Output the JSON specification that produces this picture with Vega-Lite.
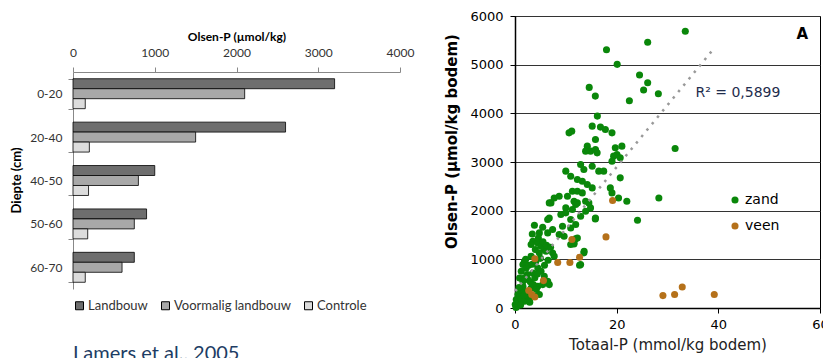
{
  "$schema": "https://vega.github.io/schema/vega-lite/v6.json",
  "padding": {"left": 10, "top": 9, "right": 0, "bottom": 0},
  "background": "white",
  "spacing": 29,
  "config": {"font": "Lato"},
  "resolve": {"scale": {"color": "independent", "fill": "independent"}, "legend": {"color": "independent", "fill": "independent"}},
  "datasets": {
    "bars": [
      {"depth": "0-20", "group": "Landbouw", "value": 3200},
      {"depth": "0-20", "group": "Voormalig landbouw", "value": 2100},
      {"depth": "0-20", "group": "Controle", "value": 150},
      {"depth": "20-40", "group": "Landbouw", "value": 2600},
      {"depth": "20-40", "group": "Voormalig landbouw", "value": 1500},
      {"depth": "20-40", "group": "Controle", "value": 200},
      {"depth": "40-50", "group": "Landbouw", "value": 1000},
      {"depth": "40-50", "group": "Voormalig landbouw", "value": 800},
      {"depth": "40-50", "group": "Controle", "value": 190},
      {"depth": "50-60", "group": "Landbouw", "value": 900},
      {"depth": "50-60", "group": "Voormalig landbouw", "value": 750},
      {"depth": "50-60", "group": "Controle", "value": 180},
      {"depth": "60-70", "group": "Landbouw", "value": 750},
      {"depth": "60-70", "group": "Voormalig landbouw", "value": 600},
      {"depth": "60-70", "group": "Controle", "value": 150}
    ],
    "pts": [
      {"tp": 33.5, "op": 5685, "soil": "zand"},
      {"tp": 26.1, "op": 5459, "soil": "zand"},
      {"tp": 18.0, "op": 5307, "soil": "zand"},
      {"tp": 20.1, "op": 5006, "soil": "zand"},
      {"tp": 24.5, "op": 4786, "soil": "zand"},
      {"tp": 26.1, "op": 4628, "soil": "zand"},
      {"tp": 25.3, "op": 4478, "soil": "zand"},
      {"tp": 28.2, "op": 4402, "soil": "zand"},
      {"tp": 14.6, "op": 4533, "soil": "zand"},
      {"tp": 15.8, "op": 4354, "soil": "zand"},
      {"tp": 22.5, "op": 4258, "soil": "zand"},
      {"tp": 16.2, "op": 3943, "soil": "zand"},
      {"tp": 31.5, "op": 3278, "soil": "zand"},
      {"tp": 28.3, "op": 2262, "soil": "zand"},
      {"tp": 24.1, "op": 1804, "soil": "zand"},
      {"tp": 15.8, "op": 1831, "soil": "zand"},
      {"tp": 13.6, "op": 1166, "soil": "zand"},
      {"tp": 12.7, "op": 878, "soil": "zand"},
      {"tp": 11.6, "op": 1316, "soil": "zand"},
      {"tp": 11.9, "op": 1420, "soil": "zand"},
      {"tp": 15.19, "op": 3737, "soil": "zand"},
      {"tp": 16.81, "op": 3717, "soil": "zand"},
      {"tp": 17.78, "op": 3669, "soil": "zand"},
      {"tp": 19.08, "op": 3599, "soil": "zand"},
      {"tp": 10.63, "op": 3599, "soil": "zand"},
      {"tp": 11.16, "op": 3634, "soil": "zand"},
      {"tp": 15.83, "op": 3464, "soil": "zand"},
      {"tp": 14.22, "op": 3326, "soil": "zand"},
      {"tp": 14.86, "op": 3223, "soil": "zand"},
      {"tp": 15.83, "op": 3258, "soil": "zand"},
      {"tp": 13.89, "op": 3223, "soil": "zand"},
      {"tp": 16.16, "op": 3188, "soil": "zand"},
      {"tp": 19.73, "op": 3291, "soil": "zand"},
      {"tp": 21.03, "op": 3326, "soil": "zand"},
      {"tp": 20.06, "op": 3155, "soil": "zand"},
      {"tp": 19.4, "op": 3120, "soil": "zand"},
      {"tp": 19.08, "op": 3017, "soil": "zand"},
      {"tp": 20.7, "op": 3085, "soil": "zand"},
      {"tp": 12.91, "op": 2949, "soil": "zand"},
      {"tp": 13.55, "op": 2847, "soil": "zand"},
      {"tp": 15.19, "op": 2914, "soil": "zand"},
      {"tp": 16.48, "op": 2812, "soil": "zand"},
      {"tp": 17.45, "op": 2812, "soil": "zand"},
      {"tp": 9.99, "op": 2812, "soil": "zand"},
      {"tp": 10.96, "op": 2709, "soil": "zand"},
      {"tp": 12.27, "op": 2641, "soil": "zand"},
      {"tp": 13.24, "op": 2606, "soil": "zand"},
      {"tp": 14.22, "op": 2538, "soil": "zand"},
      {"tp": 15.19, "op": 2468, "soil": "zand"},
      {"tp": 18.75, "op": 2468, "soil": "zand"},
      {"tp": 19.08, "op": 2365, "soil": "zand"},
      {"tp": 20.7, "op": 2674, "soil": "zand"},
      {"tp": 8.69, "op": 2297, "soil": "zand"},
      {"tp": 7.71, "op": 2262, "soil": "zand"},
      {"tp": 7.07, "op": 2160, "soil": "zand"},
      {"tp": 10.32, "op": 2297, "soil": "zand"},
      {"tp": 11.29, "op": 2400, "soil": "zand"},
      {"tp": 12.27, "op": 2400, "soil": "zand"},
      {"tp": 13.24, "op": 2365, "soil": "zand"},
      {"tp": 11.61, "op": 2195, "soil": "zand"},
      {"tp": 12.27, "op": 2160, "soil": "zand"},
      {"tp": 13.89, "op": 2195, "soil": "zand"},
      {"tp": 22.0, "op": 2195, "soil": "zand"},
      {"tp": 20.37, "op": 2262, "soil": "zand"},
      {"tp": 14.86, "op": 2057, "soil": "zand"},
      {"tp": 9.99, "op": 2057, "soil": "zand"},
      {"tp": 6.74, "op": 2160, "soil": "zand"},
      {"tp": 9.02, "op": 1921, "soil": "zand"},
      {"tp": 9.99, "op": 1955, "soil": "zand"},
      {"tp": 11.29, "op": 2023, "soil": "zand"},
      {"tp": 11.94, "op": 2126, "soil": "zand"},
      {"tp": 14.53, "op": 2160, "soil": "zand"},
      {"tp": 15.83, "op": 1851, "soil": "zand"},
      {"tp": 13.89, "op": 1989, "soil": "zand"},
      {"tp": 12.91, "op": 1886, "soil": "zand"},
      {"tp": 10.96, "op": 1818, "soil": "zand"},
      {"tp": 9.35, "op": 1680, "soil": "zand"},
      {"tp": 10.96, "op": 1645, "soil": "zand"},
      {"tp": 11.94, "op": 1715, "soil": "zand"},
      {"tp": 3.82, "op": 1701, "soil": "zand"},
      {"tp": 5.45, "op": 1660, "soil": "zand"},
      {"tp": 7.4, "op": 1612, "soil": "zand"},
      {"tp": 6.74, "op": 1851, "soil": "zand"},
      {"tp": 6.43, "op": 1818, "soil": "zand"},
      {"tp": 8.69, "op": 1509, "soil": "zand"},
      {"tp": 9.66, "op": 1475, "soil": "zand"},
      {"tp": 11.61, "op": 1337, "soil": "zand"},
      {"tp": 10.96, "op": 1304, "soil": "zand"},
      {"tp": 12.27, "op": 1440, "soil": "zand"},
      {"tp": 3.51, "op": 1372, "soil": "zand"},
      {"tp": 3.17, "op": 1304, "soil": "zand"},
      {"tp": 4.48, "op": 1337, "soil": "zand"},
      {"tp": 5.12, "op": 1269, "soil": "zand"},
      {"tp": 5.76, "op": 1201, "soil": "zand"},
      {"tp": 6.1, "op": 1166, "soil": "zand"},
      {"tp": 7.4, "op": 1131, "soil": "zand"},
      {"tp": 7.71, "op": 1063, "soil": "zand"},
      {"tp": 4.79, "op": 1131, "soil": "zand"},
      {"tp": 3.17, "op": 1063, "soil": "zand"},
      {"tp": 1.87, "op": 960, "soil": "zand"},
      {"tp": 1.56, "op": 893, "soil": "zand"},
      {"tp": 2.2, "op": 823, "soil": "zand"},
      {"tp": 1.23, "op": 755, "soil": "zand"},
      {"tp": 0.9, "op": 617, "soil": "zand"},
      {"tp": 1.56, "op": 549, "soil": "zand"},
      {"tp": 2.53, "op": 584, "soil": "zand"},
      {"tp": 3.51, "op": 720, "soil": "zand"},
      {"tp": 4.48, "op": 823, "soil": "zand"},
      {"tp": 5.12, "op": 755, "soil": "zand"},
      {"tp": 5.76, "op": 652, "soil": "zand"},
      {"tp": 6.43, "op": 549, "soil": "zand"},
      {"tp": 6.74, "op": 481, "soil": "zand"},
      {"tp": 5.45, "op": 481, "soil": "zand"},
      {"tp": 4.48, "op": 446, "soil": "zand"},
      {"tp": 3.17, "op": 411, "soil": "zand"},
      {"tp": 2.2, "op": 343, "soil": "zand"},
      {"tp": 1.23, "op": 343, "soil": "zand"},
      {"tp": 0.58, "op": 276, "soil": "zand"},
      {"tp": 0.25, "op": 173, "soil": "zand"},
      {"tp": 0.9, "op": 103, "soil": "zand"},
      {"tp": 0.05, "op": 70, "soil": "zand"},
      {"tp": 1.87, "op": 138, "soil": "zand"},
      {"tp": 2.2, "op": 206, "soil": "zand"},
      {"tp": 2.84, "op": 206, "soil": "zand"},
      {"tp": 3.82, "op": 241, "soil": "zand"},
      {"tp": 4.79, "op": 276, "soil": "zand"},
      {"tp": 1.56, "op": 446, "soil": "zand"},
      {"tp": 13.55, "op": 1131, "soil": "zand"},
      {"tp": 12.91, "op": 893, "soil": "zand"},
      {"tp": 4.79, "op": 1543, "soil": "zand"},
      {"tp": 6.43, "op": 1543, "soil": "zand"},
      {"tp": 0.4, "op": 40, "soil": "zand"},
      {"tp": 0.7, "op": 90, "soil": "zand"},
      {"tp": 1.0, "op": 230, "soil": "zand"},
      {"tp": 1.3, "op": 180, "soil": "zand"},
      {"tp": 0.8, "op": 420, "soil": "zand"},
      {"tp": 2.5, "op": 300, "soil": "zand"},
      {"tp": 3.0, "op": 540, "soil": "zand"},
      {"tp": 3.9, "op": 620, "soil": "zand"},
      {"tp": 2.7, "op": 880, "soil": "zand"},
      {"tp": 2.1, "op": 1000, "soil": "zand"},
      {"tp": 4.1, "op": 960, "soil": "zand"},
      {"tp": 5.0, "op": 1020, "soil": "zand"},
      {"tp": 4.0, "op": 1200, "soil": "zand"},
      {"tp": 3.4, "op": 1520, "soil": "zand"},
      {"tp": 4.6, "op": 1440, "soil": "zand"},
      {"tp": 5.5, "op": 1360, "soil": "zand"},
      {"tp": 6.2, "op": 1290, "soil": "zand"},
      {"tp": 7.0, "op": 1250, "soil": "zand"},
      {"tp": 6.5, "op": 980, "soil": "zand"},
      {"tp": 5.8, "op": 880, "soil": "zand"},
      {"tp": 2.4, "op": 690, "soil": "zand"},
      {"tp": 1.9, "op": 620, "soil": "zand"},
      {"tp": 3.6, "op": 480, "soil": "zand"},
      {"tp": 4.2, "op": 380, "soil": "zand"},
      {"tp": 0.2, "op": 10, "soil": "zand"},
      {"tp": 1.1, "op": 60, "soil": "zand"},
      {"tp": 1.8, "op": 260, "soil": "zand"},
      {"tp": 2.9, "op": 120, "soil": "zand"},
      {"tp": 3.4, "op": 900, "soil": "zand"},
      {"tp": 4.4, "op": 700, "soil": "zand"},
      {"tp": 19.2, "op": 2209, "soil": "veen"},
      {"tp": 17.9, "op": 1461, "soil": "veen"},
      {"tp": 11.2, "op": 1407, "soil": "veen"},
      {"tp": 12.7, "op": 1043, "soil": "veen"},
      {"tp": 10.8, "op": 934, "soil": "veen"},
      {"tp": 8.4, "op": 934, "soil": "veen"},
      {"tp": 3.9, "op": 1012, "soil": "veen"},
      {"tp": 5.6, "op": 563, "soil": "veen"},
      {"tp": 2.7, "op": 358, "soil": "veen"},
      {"tp": 3.3, "op": 276, "soil": "veen"},
      {"tp": 3.9, "op": 227, "soil": "veen"},
      {"tp": 29.1, "op": 255, "soil": "veen"},
      {"tp": 31.4, "op": 276, "soil": "veen"},
      {"tp": 32.9, "op": 432, "soil": "veen"},
      {"tp": 39.2, "op": 276, "soil": "veen"}
    ],
    "trend": [
      {"tp": 0, "op": 350},
      {"tp": 38.8, "op": 5290}
    ],
    "rlabel": [{"tp": 35.5, "op": 4416, "label": "R² = 0,5899"}],
    "alabel": [{"tp": 56.5, "op": 5640, "label": "A"}]
  },
  "hconcat": [
    {
      "width": 327,
      "height": 273,
      "view": {"stroke": null},
      "data": {"name": "bars"},
      "title": {"text": "Lamers et al., 2005", "orient": "bottom", "anchor": "start", "frame": "group", "font": "Lato", "fontSize": 20, "fontWeight": "normal", "color": "#1d3d64", "offset": 31},
      "mark": {"type": "bar", "stroke": "#000", "strokeWidth": 0.8},
      "encoding": {
        "y": {
          "field": "depth", "type": "nominal",
          "sort": ["0-20", "20-40", "40-50", "50-60", "60-70"],
          "scale": {"paddingInner": 0.31, "paddingOuter": 0.155, "range": [56, 273]},
          "axis": {"title": "Diepte (cm)", "titleFont": "Lato", "titleFontSize": 13, "titleFontWeight": "bold", "titleColor": "#000", "titlePadding": 6, "titleY": 164, "labelFont": "Lato", "labelFontSize": 12, "labelColor": "#333", "labelPadding": 6, "tickBand": "extent", "tickSize": 5, "tickColor": "#888", "domainColor": "#888"}
        },
        "yOffset": {"field": "group", "type": "nominal", "sort": ["Landbouw", "Voormalig landbouw", "Controle"], "scale": {"paddingInner": 0, "paddingOuter": 0}},
        "x": {
          "field": "value", "type": "quantitative",
          "scale": {"domain": [0, 4000], "nice": false},
          "axis": {"orient": "top", "offset": -56, "values": [0, 1000, 2000, 3000, 4000], "format": "d", "grid": false, "title": "Olsen-P (µmol/kg)", "titleFontWeight": "bold", "titleFontSize": 12, "titleColor": "#000", "titlePadding": 3, "labelFontSize": 12, "labelColor": "#333", "labelPadding": 8, "labelFlush": false, "tickSize": 5, "tickColor": "#888", "domainColor": "#888"}
        },
        "fill": {
          "field": "group", "type": "nominal",
          "scale": {"domain": ["Landbouw", "Voormalig landbouw", "Controle"], "range": ["#6e6e6e", "#a8a8a8", "#dcdcdc"]},
          "legend": {"orient": "bottom", "direction": "horizontal", "title": null, "symbolType": "square", "symbolSize": 64, "symbolStrokeColor": "#000", "symbolStrokeWidth": 1, "labelFontSize": 13, "labelFont": "Lato", "labelColor": "#333", "labelOffset": 2, "columnPadding": 11, "offset": 10}
        }
      }
    },
    {
      "width": 305,
      "height": 292,
      "view": {"stroke": "#000", "strokeWidth": 1},
      "layer": [
        {
          "data": {"name": "pts"},
          "mark": {"type": "circle", "size": 50, "opacity": 1},
          "encoding": {
            "x": {
              "field": "tp", "type": "quantitative",
              "scale": {"domain": [0, 60], "nice": false},
              "axis": {"values": [0, 20, 40, 60], "format": "d", "grid": false, "title": "Totaal-P (mmol/kg bodem)", "titleFont": "DejaVu Sans", "titleFontSize": 15, "titleFontWeight": "normal", "titleColor": "#222", "titlePadding": 6, "labelFont": "DejaVu Sans", "labelFontSize": 13, "labelColor": "#000", "labelFlush": false, "labelPadding": 5, "tickSize": 5, "tickColor": "#000", "domainColor": "#000", "domainWidth": 1.5}
            },
            "y": {
              "field": "op", "type": "quantitative",
              "scale": {"domain": [0, 6000], "nice": false},
              "axis": {"values": [0, 1000, 2000, 3000, 4000, 5000, 6000], "format": "d", "grid": true, "gridColor": "#333", "gridWidth": 1, "title": "Olsen-P (µmol/kg bodem)", "titleFont": "DejaVu Sans", "titleFontSize": 15, "titleFontWeight": "bold", "titleColor": "#000", "titleX": -64, "titleY": 125, "titleBaseline": "middle", "labelFont": "DejaVu Sans", "labelFontSize": 13, "labelColor": "#000", "labelFlush": false, "labelPadding": 7, "tickSize": 5, "tickColor": "#000", "domainColor": "#000", "domainWidth": 1.5}
            },
            "color": {
              "field": "soil", "type": "nominal",
              "scale": {"domain": ["zand", "veen"], "range": ["#0a870a", "#b5711a"]},
              "legend": {"orient": "none", "legendX": 213, "legendY": 177, "title": null, "symbolType": "circle", "symbolSize": 50, "symbolOpacity": 1, "labelFont": "DejaVu Sans", "labelFontSize": 14, "labelColor": "#000", "labelOffset": 3, "rowPadding": 12}
            }
          }
        },
        {
          "data": {"name": "trend"},
          "mark": {"type": "line", "stroke": "#999", "strokeWidth": 2.5, "strokeDash": [2.5, 5.8]},
          "encoding": {"x": {"field": "tp", "type": "quantitative"}, "y": {"field": "op", "type": "quantitative"}}
        },
        {
          "data": {"name": "rlabel"},
          "mark": {"type": "text", "align": "left", "baseline": "middle", "font": "DejaVu Sans", "fontSize": 14, "color": "#1f2d4d"},
          "encoding": {"x": {"field": "tp", "type": "quantitative"}, "y": {"field": "op", "type": "quantitative"}, "text": {"field": "label"}}
        },
        {
          "data": {"name": "alabel"},
          "mark": {"type": "text", "align": "center", "baseline": "middle", "font": "DejaVu Sans", "fontSize": 15, "fontWeight": "bold", "color": "#000"},
          "encoding": {"x": {"field": "tp", "type": "quantitative"}, "y": {"field": "op", "type": "quantitative"}, "text": {"field": "label"}}
        }
      ]
    }
  ]
}
